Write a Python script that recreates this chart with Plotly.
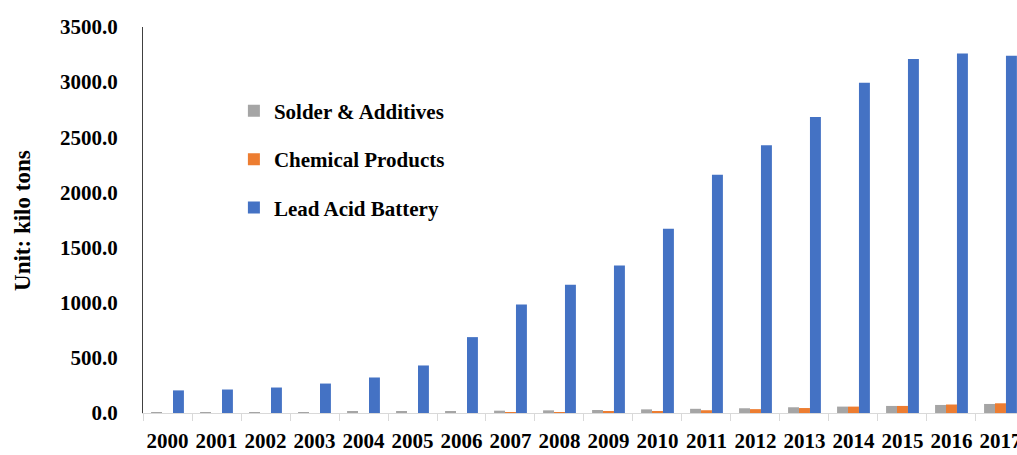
import plotly.graph_objects as go

years = [str(y) for y in range(2000, 2018)]

solder_additives = [5, 6, 7, 9, 11, 13, 17, 21, 24, 27, 33, 38, 43, 52, 58, 64, 73, 82]
chemical_products = [0, 0, 0, 0, 0, 0, 0, 2, 8, 12, 18, 25, 35, 45, 58, 64, 77, 88]
lead_acid_battery = [205, 213, 231, 267, 322, 431, 688, 983, 1164, 1337, 1670, 2160, 2427, 2684, 2995, 3210, 3260, 3240]

y_ticks = [0, 500, 1000, 1500, 2000, 2500, 3000, 3500]

FONT = "Liberation Serif"

fig = go.Figure()
series = [
    ("Solder & Additives", solder_additives, "#A5A5A5"),
    ("Chemical Products", chemical_products, "#ED7D31"),
    ("Lead Acid Battery", lead_acid_battery, "#4472C4"),
]
for name, vals, color in series:
    fig.add_trace(go.Bar(
        x=years, y=vals, name=name, marker_color=color,
        marker_line_width=0, legendgroup=name,
    ))

fig.update_layout(
    width=1017, height=455,
    margin=dict(l=143, r=0, t=27, b=42),
    paper_bgcolor="white", plot_bgcolor="white",
    barmode="group", bargap=0.33, bargroupgap=0,
    font=dict(family=FONT, size=21, color="black", weight="bold"),
    showlegend=True,
    legend=dict(
        x=0.104, y=0.835, xanchor="left", yanchor="top",
        bgcolor="rgba(0,0,0,0)", traceorder="grouped", tracegroupgap=18,
        font=dict(family=FONT, size=21, color="black", weight="bold"),
        itemwidth=30,
    ),
)

fig.update_xaxes(
    type="category", range=[-0.5, 17.337], automargin=False,
    showline=True, linecolor="#D9D9D9", linewidth=1,
    ticks="outside", tickson="boundaries", ticklen=7, tickcolor="#D9D9D9",
    tickangle=0,
    tickfont=dict(family=FONT, size=21, color="black", weight="bold"),
    ticklabelstandoff=9, showgrid=False, zeroline=False,
)
fig.update_yaxes(
    range=[0, 3500], automargin=False,
    tickvals=y_ticks, ticktext=[f"{v:.1f}" for v in y_ticks],
    showline=True, linecolor="#404040", linewidth=1,
    ticks="", ticklabelstandoff=20,
    tickfont=dict(family=FONT, size=21, color="black", weight="bold"),
    showgrid=False, zeroline=False,
)

fig.add_annotation(
    text="<b>Unit: kilo tons</b>", textangle=-90,
    xref="paper", yref="paper", x=-0.1385, y=0.5,
    xanchor="center", yanchor="middle", showarrow=False,
    font=dict(family=FONT, size=23, color="black"),
)

fig.write_html("out.html")
